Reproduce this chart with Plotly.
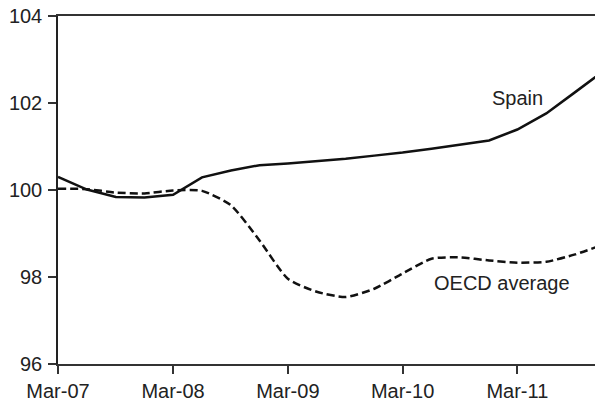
import plotly.graph_objects as go

quarters = ["2007-03-01", "2007-06-01", "2007-09-01", "2007-12-01",
            "2008-03-01", "2008-06-01", "2008-09-01", "2008-12-01",
            "2009-03-01", "2009-06-01", "2009-09-01", "2009-12-01",
            "2010-03-01", "2010-06-01", "2010-09-01", "2010-12-01",
            "2011-03-01", "2011-06-01", "2011-09-01", "2011-12-01"]

spain = [100.30, 100.01, 99.84, 99.83, 99.89, 100.29, 100.45, 100.57,
         100.61, 100.66, 100.72, 100.79, 100.86, 100.95, 101.04, 101.14,
         101.39, 101.76, 102.25, 102.74]

oecd = [100.03, 100.02, 99.94, 99.92, 99.99, 99.98, 99.65, 98.84,
        97.96, 97.66, 97.54, 97.73, 98.08, 98.42, 98.45, 98.38,
        98.33, 98.35, 98.52, 98.75]

tick_vals = ["2007-03-01", "2008-03-01", "2009-03-01", "2010-03-01", "2011-03-01"]
tick_text = ["Mar-07", "Mar-08", "Mar-09", "Mar-10", "Mar-11"]
y_ticks = [96, 98, 100, 102, 104]

font = "Liberation Sans, Arial, sans-serif"
fsize = 20

fig = go.Figure()
fig.add_trace(go.Scatter(x=quarters, y=spain, mode="lines", name="Spain",
                         line=dict(color="#111111", width=2.5)))
fig.add_trace(go.Scatter(x=quarters, y=oecd, mode="lines", name="OECD average",
                         line=dict(color="#111111", width=2.5, dash="8px,4px",
                                   shape="spline", smoothing=0.6)))

fig.add_annotation(x="2011-03-01", y=102.12, text="Spain", showarrow=False,
                   font=dict(family=font, size=fsize, color="#222222"))
fig.add_annotation(x="2011-01-10", y=97.86, text="OECD average", showarrow=False,
                   font=dict(family=font, size=fsize, color="#222222"))

fig.update_layout(
    width=595, height=401,
    margin=dict(l=58, r=0, t=16, b=37),
    plot_bgcolor="white", paper_bgcolor="white",
    showlegend=False,
    font=dict(family=font, size=fsize, color="#222222"),
)
fig.update_xaxes(
    type="date", range=["2007-03-01", "2011-11-03"],
    tickvals=tick_vals, ticktext=tick_text, automargin=False,
    showline=True, linecolor="#333333", linewidth=1.5, mirror=True,
    ticks="outside", ticklen=8, tickcolor="#333333", tickwidth=1.5,
    ticklabelstandoff=0,
    showgrid=False, zeroline=False,
    tickfont=dict(family=font, size=fsize, color="#222222"),
)
fig.update_yaxes(
    range=[96, 104], tickvals=y_ticks, automargin=False,
    showline=True, linecolor="#222222", linewidth=1.5,
    ticks="outside", ticklen=8, tickcolor="#333333", tickwidth=1.5,
    ticklabelstandoff=2,
    showgrid=False, zeroline=False,
    tickfont=dict(family=font, size=fsize, color="#222222"),
)

fig.write_html("out.html", config={"displayModeBar": False},
               post_script="document.body.style.margin='0';document.body.style.overflow='hidden';")
